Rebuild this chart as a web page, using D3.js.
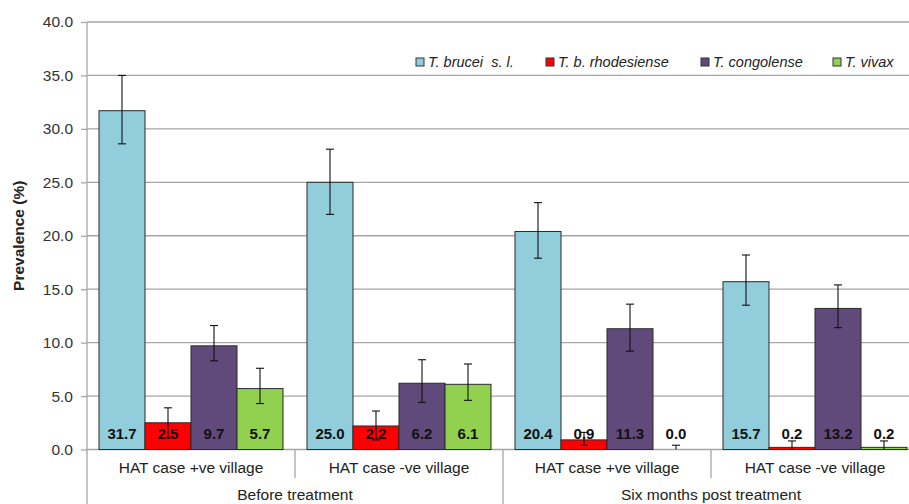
<!DOCTYPE html>
<html>
<head>
<meta charset="utf-8">
<script src="https://cdn.jsdelivr.net/npm/d3@7"></script>
<style>
  body { margin: 0; background: #fff; }
  text { font-family: "Liberation Sans", Arial, sans-serif; }
</style>
</head>
<body>
<script>
// data
const villages = ["HAT case +ve village", "HAT case -ve village", "HAT case +ve village", "HAT case -ve village"];
const periods = ["Before treatment", "Six months post treatment"];
const species = ["T. brucei  s. l.", "T. b. rhodesiense", "T. congolense", "T. vivax"];
const colors = ["#92CDDC", "#FF0000", "#604A7B", "#92D050"];

const brucei = [31.7, 25.0, 20.4, 15.7];
const rhodesiense = [2.5, 2.2, 0.9, 0.2];
const congolense = [9.7, 6.2, 11.3, 13.2];
const vivax = [5.7, 6.1, 0.0, 0.2];

const bruceiLo = [28.6, 22.0, 17.9, 13.5];
const bruceiHi = [35.0, 28.1, 23.1, 18.2];
const rhodLo = [1.1, 0.9, 0.4, 0.0];
const rhodHi = [3.9, 3.6, 1.6, 0.8];
const congLo = [8.3, 4.4, 9.2, 11.4];
const congHi = [11.6, 8.4, 13.6, 15.4];
const vivaxLo = [4.3, 4.6, 0.0, 0.0];
const vivaxHi = [7.6, 8.0, 0.4, 0.8];

const yTicks = [0, 5, 10, 15, 20, 25, 30, 35, 40];

const values = [brucei, rhodesiense, congolense, vivax];
const lows = [bruceiLo, rhodLo, congLo, vivaxLo];
const highs = [bruceiHi, rhodHi, congHi, vivaxHi];

const W = 909, H = 504;
const svg = d3.select("body").append("svg")
  .attr("width", W)
  .attr("height", H);

const left = 87, right = 919;
const grid = "#A6A6A6";
const y = d3.scaleLinear().domain([0, 40]).range([449.5, 22]);
const x0 = d3.scaleBand().domain(d3.range(villages.length)).range([left, right]);
const x1 = d3.scaleBand().domain(d3.range(species.length)).range([12, x0.bandwidth() - 12]);
const xp = d3.scaleBand().domain(d3.range(periods.length)).range([left, right]);

// gridlines
svg.append("g")
  .selectAll("line")
  .data(yTicks)
  .join("line")
  .attr("x1", left).attr("x2", right)
  .attr("y1", d => y(d)).attr("y2", d => y(d))
  .attr("stroke", grid)
  .attr("stroke-width", 1.3);

// y axis
const yAxis = svg.append("g")
  .attr("transform", `translate(${left},0)`)
  .call(d3.axisLeft(y).tickValues(yTicks).tickFormat(d3.format(".1f")).tickSize(6).tickPadding(8));
yAxis.select(".domain").remove();
yAxis.selectAll(".tick line").attr("stroke", grid).attr("stroke-width", 1.3);
yAxis.selectAll(".tick text")
  .style("font-size", "15.5px")
  .attr("fill", "#333");

svg.append("line")
  .attr("x1", left).attr("x2", left)
  .attr("y1", y(40)).attr("y2", H)
  .attr("stroke", grid).attr("stroke-width", 1.3);

svg.append("text")
  .attr("transform", `translate(24,${(y(0) + y(40)) / 2}) rotate(-90)`)
  .attr("text-anchor", "middle")
  .style("font-size", "15.5px")
  .style("font-weight", "bold")
  .attr("fill", "#222")
  .text("Prevalence (%)");

// category separators
svg.append("g")
  .selectAll("line")
  .data(d3.range(1, villages.length))
  .join("line")
  .attr("x1", d => x0(d)).attr("x2", d => x0(d))
  .attr("y1", y(0))
  .attr("y2", d => d % 2 === 0 ? H : 478)
  .attr("stroke", grid).attr("stroke-width", 1.3);

svg.append("g")
  .selectAll("text")
  .data(villages)
  .join("text")
  .attr("x", (d, i) => x0(i) + x0.bandwidth() / 2)
  .attr("y", 473)
  .attr("text-anchor", "middle")
  .style("font-size", "15.5px")
  .attr("fill", "#222")
  .text(d => d);

svg.append("g")
  .selectAll("text")
  .data(periods)
  .join("text")
  .attr("x", (d, i) => xp(i) + xp.bandwidth() / 2)
  .attr("y", 500)
  .attr("text-anchor", "middle")
  .style("font-size", "15.5px")
  .attr("fill", "#222")
  .text(d => d);

// bars
const groups = svg.append("g")
  .selectAll("g")
  .data(villages)
  .join("g")
  .attr("transform", (d, i) => `translate(${x0(i)},0)`);

const cells = groups.selectAll("g")
  .data((d, i) => species.map((s, k) => ({
    k, v: values[k][i], lo: lows[k][i], hi: highs[k][i]
  })))
  .join("g");

cells.filter(d => d.v > 0)
  .append("rect")
  .attr("x", d => x1(d.k))
  .attr("y", d => y(d.v))
  .attr("width", x1.bandwidth())
  .attr("height", d => y(0) - y(d.v))
  .attr("fill", d => colors[d.k])
  .attr("stroke", "#2b2b2b")
  .attr("stroke-width", 1);

cells.append("text")
  .attr("x", d => x1(d.k) + x1.bandwidth() / 2)
  .attr("y", 434)
  .attr("dy", "0.35em")
  .attr("text-anchor", "middle")
  .style("font-size", "15px")
  .style("font-weight", "bold")
  .attr("fill", "#111")
  .text(d => d3.format(".1f")(d.v));

// error bars
const err = cells.append("g").attr("stroke", "#111").attr("stroke-width", 1.1);
err.append("line")
  .attr("x1", d => x1(d.k) + x1.bandwidth() / 2)
  .attr("x2", d => x1(d.k) + x1.bandwidth() / 2)
  .attr("y1", d => y(d.lo)).attr("y2", d => y(d.hi));
err.append("line")
  .attr("x1", d => x1(d.k) + x1.bandwidth() / 2 - 4)
  .attr("x2", d => x1(d.k) + x1.bandwidth() / 2 + 4)
  .attr("y1", d => y(d.hi)).attr("y2", d => y(d.hi));
err.filter(d => d.lo > 0).append("line")
  .attr("x1", d => x1(d.k) + x1.bandwidth() / 2 - 4)
  .attr("x2", d => x1(d.k) + x1.bandwidth() / 2 + 4)
  .attr("y1", d => y(d.lo)).attr("y2", d => y(d.lo));

// legend
const legendX = [416, 546, 701, 833];
const legend = svg.append("g")
  .selectAll("g")
  .data(species)
  .join("g")
  .attr("transform", (d, i) => `translate(${legendX[i]},62)`);
legend.append("rect")
  .attr("x", 0).attr("y", -4)
  .attr("width", 8).attr("height", 8)
  .attr("fill", (d, i) => colors[i])
  .attr("stroke", "#333").attr("stroke-width", 1);
legend.append("text")
  .attr("x", 12)
  .attr("dy", "0.35em")
  .style("font-size", "14.5px")
  .style("font-style", "italic")
  .style("white-space", "pre")
  .attr("fill", "#222")
  .text(d => d);
</script>
</body>
</html>
